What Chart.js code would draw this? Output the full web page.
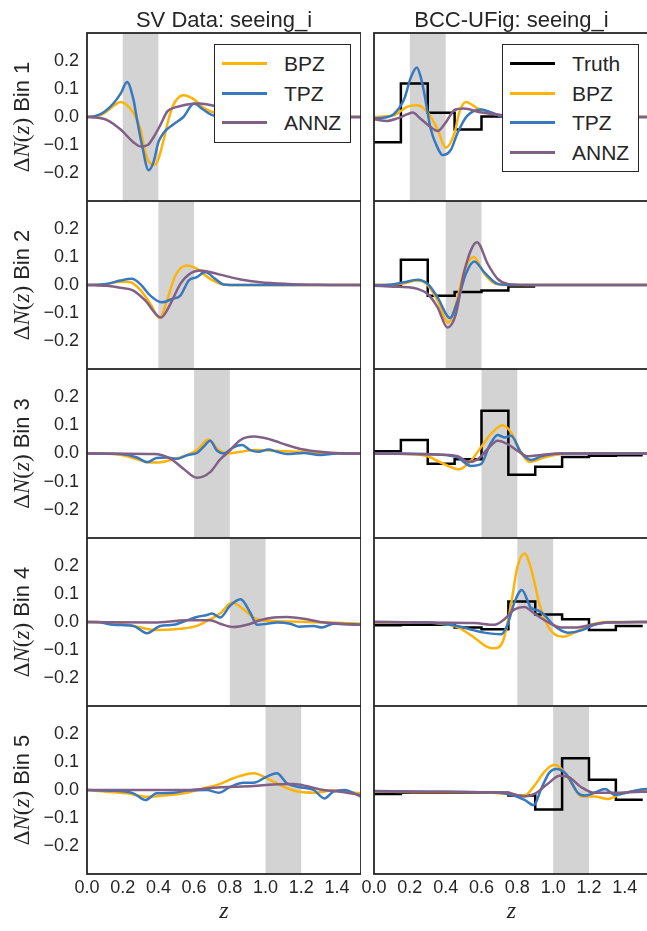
<!DOCTYPE html>
<html>
<head>
<meta charset="utf-8">
<script src="https://cdn.jsdelivr.net/npm/chart.js@4.4.1/dist/chart.umd.min.js"></script>
<style>
html, body { margin: 0; padding: 0; background: #fff; overflow: hidden; width: 647px; height: 931px; }
canvas { position: absolute; }
.legend { position: absolute; background: #fff; border: 1px solid #262626; box-sizing: border-box;
          font-family: "Liberation Sans", Arial, sans-serif; font-size: 21px; color: #262626; }
.legend .item { position: absolute; left: 0; height: 29px; line-height: 29px; width: 100%; }
.legend .sw { position: absolute; top: 13px; width: 45px; height: 3px; }
.legend .lab { position: absolute; left: 69px; top: 0; white-space: nowrap; }
</style>
</head>
<body>
<script>
// ejes y textos
const zMax = 1.535;
const xTicks = [0, 0.2, 0.4, 0.6, 0.8, 1.0, 1.2, 1.4];
const yTicks = [-0.2, -0.1, 0, 0.1, 0.2];
const binBands = [[0.2, 0.4], [0.4, 0.6], [0.6, 0.8], [0.8, 1.0], [1.0, 1.2]];
const columnTitles = ['SV Data: seeing_i', 'BCC-UFig: seeing_i'];
const colors = { Truth: '#000000', BPZ: '#feb308', TPZ: '#3778bf', ANNZ: '#825f87' };

// SV data: puntos [z, dN] por bin
const svBPZ = [
  [[0,0],[0.08,0.008],[0.14,0.035],[0.187,0.054],[0.22,0.045],[0.26,0.015],[0.3,-0.044],[0.327,-0.128],[0.355,-0.166],[0.383,-0.17],[0.4,-0.15],[0.43,-0.08],[0.457,-0.008],[0.485,0.045],[0.54,0.078],[0.6,0.063],[0.653,0.033],[0.71,0.016],[0.8,0.004],[0.9,0],[1.535,0]],
  [[0,0],[0.11,0.004],[0.187,0.012],[0.243,0.01],[0.3,-0.018],[0.355,-0.068],[0.407,-0.118],[0.448,-0.056],[0.495,0.034],[0.56,0.07],[0.616,0.058],[0.69,0.022],[0.765,0.002],[0.85,0],[1.535,0]],
  [[0,0],[0.15,-0.002],[0.224,-0.01],[0.336,-0.03],[0.4,-0.032],[0.485,-0.02],[0.56,-0.006],[0.616,0.012],[0.68,0.05],[0.737,0.012],[0.784,0],[0.86,0.006],[0.933,0.012],[1.045,0.01],[1.19,0.006],[1.344,0],[1.535,0]],
  [[0,0],[0.11,-0.002],[0.224,-0.01],[0.3,-0.02],[0.39,-0.029],[0.523,-0.024],[0.616,-0.014],[0.69,0.01],[0.746,0.03],[0.812,0.07],[0.877,0.045],[0.952,0.01],[1.045,0.004],[1.19,0.001],[1.344,-0.002],[1.535,-0.006]],
  [[0,0],[0.11,-0.006],[0.224,-0.012],[0.336,-0.024],[0.448,-0.019],[0.56,-0.01],[0.653,0.006],[0.746,0.022],[0.82,0.042],[0.933,0.06],[1.008,0.042],[1.08,0.018],[1.157,-0.002],[1.27,-0.01],[1.38,-0.002],[1.535,-0.012]]
];
const svTPZ = [
  [[0,0],[0.05,0.004],[0.1,0.02],[0.15,0.05],[0.19,0.085],[0.224,0.125],[0.26,0.063],[0.28,-0.008],[0.308,-0.1],[0.345,-0.19],[0.373,-0.16],[0.4,-0.09],[0.43,-0.056],[0.485,-0.026],[0.54,0],[0.6,0.048],[0.65,0.027],[0.71,0.005],[0.8,0],[1.535,0]],
  [[0,0],[0.11,0.004],[0.187,0.016],[0.252,0.022],[0.3,0.002],[0.355,-0.038],[0.42,-0.062],[0.476,-0.05],[0.523,-0.038],[0.57,0.016],[0.616,0.028],[0.662,0.046],[0.718,0.022],[0.765,0.002],[0.85,0],[1.535,0]],
  [[0,0],[0.187,-0.002],[0.28,-0.014],[0.336,-0.031],[0.39,-0.016],[0.448,-0.014],[0.504,-0.019],[0.56,-0.006],[0.616,0.002],[0.653,0.024],[0.69,0.045],[0.728,0.01],[0.765,0],[0.82,0.022],[0.868,0.03],[0.915,0.012],[0.96,0.006],[1.017,0.014],[1.064,0.006],[1.12,-0.002],[1.213,0.002],[1.306,-0.005],[1.4,0],[1.535,0]],
  [[0,0],[0.056,0],[0.15,-0.01],[0.26,-0.014],[0.336,-0.04],[0.41,-0.014],[0.485,-0.01],[0.56,0.006],[0.616,0.018],[0.672,0.025],[0.7,0.03],[0.746,0.016],[0.8,0.057],[0.86,0.081],[0.915,0.033],[0.952,-0.01],[1.008,-0.006],[1.064,-0.002],[1.138,-0.006],[1.19,-0.017],[1.27,-0.014],[1.316,-0.02],[1.38,-0.006],[1.535,-0.01]],
  [[0,0],[0.11,-0.002],[0.26,-0.012],[0.327,-0.036],[0.39,-0.012],[0.485,-0.01],[0.56,-0.002],[0.672,0],[0.737,-0.01],[0.8,0.01],[0.877,0.026],[0.933,0.026],[1.008,0.048],[1.064,0.06],[1.12,0.024],[1.194,0.01],[1.27,0],[1.33,-0.03],[1.38,-0.006],[1.446,0],[1.49,-0.01],[1.535,-0.024]]
];
const svANNZ = [
  [[0,0],[0.06,-0.003],[0.11,-0.01],[0.187,-0.044],[0.26,-0.09],[0.3,-0.105],[0.34,-0.1],[0.37,-0.075],[0.41,-0.03],[0.45,0.02],[0.5,0.035],[0.56,0.045],[0.63,0.048],[0.71,0.04],[0.8,0.025],[0.9,0.01],[1.0,0.003],[1.1,0],[1.535,0]],
  [[0,0],[0.11,-0.003],[0.187,-0.01],[0.26,-0.02],[0.327,-0.056],[0.414,-0.116],[0.467,-0.068],[0.523,0.004],[0.58,0.042],[0.635,0.052],[0.746,0.037],[0.86,0.02],[0.97,0.01],[1.12,0.004],[1.3,0.001],[1.535,0]],
  [[0,0],[0.373,-0.002],[0.467,-0.018],[0.54,-0.054],[0.616,-0.086],[0.69,-0.066],[0.746,-0.021],[0.793,0.006],[0.86,0.048],[0.933,0.06],[1.026,0.05],[1.12,0.03],[1.213,0.014],[1.306,0.006],[1.45,0],[1.535,0]],
  [[0,0],[0.373,-0.002],[0.56,0.006],[0.69,0.006],[0.746,-0.006],[0.82,-0.018],[0.896,-0.01],[0.97,0.006],[1.045,0.016],[1.12,0.018],[1.213,0.012],[1.306,0],[1.456,-0.008],[1.535,-0.01]],
  [[0,0],[0.56,0],[0.746,0.01],[0.933,0.014],[1.045,0.02],[1.157,0.021],[1.23,0.014],[1.306,0.002],[1.418,-0.006],[1.535,-0.018]]
];

// BCC-UFig: puntos [z, dN] por bin
const simBPZ = [
  [[0,0],[0.11,0.006],[0.187,0.037],[0.243,0.042],[0.3,0.016],[0.355,-0.044],[0.4,-0.11],[0.45,-0.056],[0.476,0.016],[0.513,0.054],[0.58,0.03],[0.65,0.016],[0.72,0.003],[0.8,0],[1.535,0]],
  [[0,0],[0.1,0.001],[0.168,0.006],[0.243,0.016],[0.3,0],[0.355,-0.056],[0.414,-0.134],[0.457,-0.068],[0.504,0.05],[0.556,0.1],[0.616,0.04],[0.672,0.006],[0.75,0],[1.535,0]],
  [[0,0],[0.2,-0.002],[0.3,-0.01],[0.373,-0.032],[0.476,-0.056],[0.54,-0.026],[0.597,0.022],[0.653,0.07],[0.718,0.1],[0.765,0.075],[0.82,0.004],[0.868,-0.03],[0.933,-0.018],[1.0,-0.006],[1.1,0],[1.535,0]],
  [[0,-0.002],[0.3,-0.002],[0.373,-0.006],[0.467,-0.018],[0.56,-0.056],[0.635,-0.09],[0.672,-0.094],[0.72,-0.068],[0.765,0.063],[0.8,0.195],[0.84,0.245],[0.877,0.19],[0.924,0.063],[0.97,-0.014],[1.008,-0.044],[1.054,-0.053],[1.12,-0.038],[1.194,-0.014],[1.3,0],[1.535,0]],
  [[0,-0.005],[0.3,-0.008],[0.6,-0.008],[0.746,-0.014],[0.84,-0.02],[0.896,0.016],[0.952,0.066],[1.008,0.09],[1.054,0.07],[1.1,0.027],[1.157,-0.023],[1.23,-0.023],[1.306,-0.032],[1.38,-0.014],[1.49,0],[1.535,0.003]]
];
const simTPZ = [
  [[0,-0.005],[0.06,-0.002],[0.11,0.01],[0.168,0.063],[0.205,0.14],[0.239,0.177],[0.262,0.14],[0.28,0.087],[0.317,-0.044],[0.355,-0.11],[0.383,-0.136],[0.43,-0.116],[0.467,-0.056],[0.52,0.004],[0.6,0.027],[0.653,0.016],[0.72,0.002],[0.8,0],[1.535,0]],
  [[0,0],[0.1,0.002],[0.168,0.01],[0.243,0.019],[0.3,0.004],[0.355,-0.044],[0.425,-0.118],[0.467,-0.056],[0.513,0.04],[0.56,0.084],[0.616,0.045],[0.69,0.004],[0.76,0],[1.535,0]],
  [[0,0],[0.373,-0.004],[0.467,-0.014],[0.54,-0.044],[0.597,-0.038],[0.644,0.027],[0.69,0.066],[0.728,0.057],[0.765,0.063],[0.82,0.004],[0.877,-0.023],[0.933,-0.01],[1.045,0],[1.535,0]],
  [[0,0],[0.3,-0.002],[0.467,-0.014],[0.56,-0.03],[0.616,-0.038],[0.71,-0.044],[0.746,-0.008],[0.784,0.07],[0.825,0.114],[0.877,0.05],[0.914,0.042],[0.952,0.025],[1.0,-0.01],[1.08,-0.038],[1.157,-0.03],[1.23,-0.01],[1.3,-0.002],[1.535,0]],
  [[0,-0.004],[0.3,-0.006],[0.6,-0.008],[0.746,-0.014],[0.84,-0.035],[0.892,-0.054],[0.933,0.004],[0.98,0.063],[1.017,0.075],[1.073,0.057],[1.138,-0.01],[1.176,-0.02],[1.23,-0.01],[1.29,0.004],[1.344,-0.018],[1.418,-0.008],[1.49,0.002],[1.535,0.004]]
];
const simANNZ = [
  [[0,-0.008],[0.075,-0.014],[0.13,-0.005],[0.187,0.01],[0.215,0.016],[0.26,-0.006],[0.308,-0.032],[0.355,-0.05],[0.4,-0.02],[0.45,0.025],[0.5,0.03],[0.6,0.016],[0.72,0.006],[0.85,0.002],[1.0,0],[1.535,0]],
  [[0,-0.003],[0.11,-0.006],[0.187,-0.008],[0.243,-0.014],[0.3,-0.032],[0.355,-0.08],[0.41,-0.152],[0.457,-0.104],[0.504,0.05],[0.575,0.153],[0.635,0.075],[0.69,0.022],[0.746,0.004],[0.85,0],[1.535,0]],
  [[0,0],[0.373,-0.004],[0.467,-0.01],[0.53,-0.03],[0.58,-0.02],[0.635,0.016],[0.69,0.045],[0.746,0.033],[0.8,0.01],[0.86,-0.01],[0.933,-0.005],[1.045,0],[1.535,0]],
  [[0,0],[0.56,-0.004],[0.672,-0.01],[0.728,0.01],[0.784,0.045],[0.84,0.054],[0.896,0.03],[0.97,0],[1.045,-0.02],[1.12,-0.02],[1.213,-0.01],[1.3,-0.002],[1.535,0]],
  [[0,-0.004],[0.3,-0.006],[0.6,-0.008],[0.746,-0.01],[0.84,-0.023],[0.896,-0.014],[0.97,0.022],[1.036,0.051],[1.09,0.045],[1.157,0.01],[1.23,-0.01],[1.344,-0.01],[1.49,-0.006],[1.535,-0.006]]
];

// histograma "Truth" (solo BCC-UFig)
const truthEdges = [0, 0.15, 0.3, 0.45, 0.6, 0.75, 0.9, 1.05, 1.2, 1.35, 1.5];
const truthBins = [
  [-0.09, 0.12, 0.015, -0.045, 0.002],
  [-0.002, 0.09, -0.038, -0.025, -0.02, -0.005],
  [0.008, 0.048, -0.036, -0.02, 0.152, -0.075, -0.047, -0.012, -0.008, -0.006],
  [-0.012, -0.01, -0.01, -0.02, -0.026, 0.073, 0.027, 0.01, -0.029, -0.014],
  [-0.014, -0.01, -0.01, -0.01, -0.01, -0.02, -0.07, 0.113, 0.037, -0.035]
];

// geometría de paneles
const rowTop = [33, 201, 369, 538, 706];
const plotBottom = 874;
const colLeft = [0, 361];
const colWidth = [361, 288];
const axisWidth = [87, 13];
const textColor = '#262626';

function curve(label, pts) {
  return {
    label: label,
    data: pts.map(p => ({ x: p[0], y: p[1] })),
    borderColor: colors[label],
    borderWidth: 2.5,
    pointRadius: 0,
    fill: false,
    cubicInterpolationMode: 'monotone'
  };
}

function truthCurve(vals) {
  const data = vals.map((v, i) => ({ x: truthEdges[i], y: v }));
  data.push({ x: truthEdges[vals.length], y: vals[vals.length - 1] });
  return { label: 'Truth', data: data, borderColor: colors.Truth, borderWidth: 2.5, pointRadius: 0, fill: false, stepped: true };
}

const bandPlugin = {
  id: 'band',
  beforeDatasetsDraw(chart) {
    const band = chart.options.plugins.band;
    const { ctx, chartArea, scales } = chart;
    const x0 = scales.x.getPixelForValue(band.from);
    const x1 = scales.x.getPixelForValue(band.to);
    ctx.save();
    ctx.fillStyle = '#d3d3d3';
    ctx.fillRect(x0, chartArea.top, x1 - x0, chartArea.bottom - chartArea.top);
    ctx.restore();
  }
};

const framePlugin = {
  id: 'frame',
  afterDraw(chart) {
    const { ctx, chartArea } = chart;
    const opts = chart.options.plugins.frame;
    ctx.save();
    ctx.strokeStyle = textColor;
    ctx.lineWidth = 1.8;
    ctx.strokeRect(chartArea.left, chartArea.top, chartArea.right - chartArea.left, chartArea.bottom - chartArea.top);
    // título de columna
    if (opts.title) {
      ctx.fillStyle = textColor;
      ctx.font = '22px "Liberation Sans", Arial, sans-serif';
      ctx.textAlign = 'center';
      ctx.textBaseline = 'alphabetic';
      ctx.fillText(opts.title, (chartArea.left + chartArea.right) / 2, 26.5);
    }
    // etiqueta del eje y: ΔN(z) Bin k
    if (opts.ylabel) {
      const serif = '23px "Liberation Serif", "DejaVu Serif", serif';
      const serifIt = 'italic 23px "Liberation Serif", "DejaVu Serif", serif';
      const sans = '22px "Liberation Sans", Arial, sans-serif';
      const parts = [['\u0394', serif], ['N', serifIt], ['(', serif], ['z', serifIt], [')', serif], [' Bin ' + opts.ylabel, sans]];
      let total = 0;
      parts.forEach(p => { ctx.font = p[1]; total += ctx.measureText(p[0]).width; });
      ctx.translate(23, (chartArea.top + chartArea.bottom) / 2);
      ctx.rotate(-Math.PI / 2);
      ctx.fillStyle = textColor;
      ctx.textAlign = 'left';
      ctx.textBaseline = 'middle';
      let x = -total / 2;
      parts.forEach(p => { ctx.font = p[1]; ctx.fillText(p[0], x, 0); x += ctx.measureText(p[0]).width; });
    }
    ctx.restore();
  }
};

function makePanel(col, row) {
  const isTop = row === 0;
  const isBottom = row === rowTop.length - 1;
  const top = isTop ? 0 : rowTop[row];
  const areaBottom = isBottom ? plotBottom : rowTop[row + 1];
  const xAxisH = isBottom ? 57 : 0;
  const height = areaBottom - top + xAxisH;

  const canvas = document.createElement('canvas');
  canvas.width = colWidth[col];
  canvas.height = height;
  canvas.style.left = colLeft[col] + 'px';
  canvas.style.top = top + 'px';
  canvas.style.width = colWidth[col] + 'px';
  canvas.style.height = height + 'px';
  document.body.appendChild(canvas);

  const datasets = col === 0
    ? [curve('ANNZ', svANNZ[row]), curve('TPZ', svTPZ[row]), curve('BPZ', svBPZ[row])]
    : [curve('ANNZ', simANNZ[row]), curve('TPZ', simTPZ[row]), curve('BPZ', simBPZ[row]), truthCurve(truthBins[row])];

  new Chart(canvas.getContext('2d'), {
    type: 'line',
    data: { datasets: datasets },
    plugins: [bandPlugin, framePlugin],
    options: {
      responsive: false,
      animation: false,
      layout: { padding: { top: isTop ? 33 : 0, right: 0, bottom: 0, left: 0 } },
      plugins: {
        legend: { display: false },
        tooltip: { enabled: false },
        band: { from: binBands[row][0], to: binBands[row][1] },
        frame: { title: isTop ? columnTitles[col] : null, ylabel: col === 0 ? String(row + 1) : null }
      },
      scales: {
        x: {
          type: 'linear',
          min: 0,
          max: zMax,
          display: isBottom,
          afterBuildTicks: s => { s.ticks = xTicks.map(v => ({ value: v })); },
          afterFit: s => {
            if (isBottom) s.height = xAxisH;
            s.paddingLeft = 0; s.paddingRight = 0;
          },
          grid: { display: false, drawTicks: false },
          border: { display: false },
          ticks: {
            padding: 3,
            maxRotation: 0,
            color: textColor,
            font: { family: '"Liberation Sans", Arial, sans-serif', size: 18 },
            callback: v => v.toFixed(1)
          },
          title: {
            display: true,
            text: 'z',
            color: textColor,
            font: { family: '"Liberation Serif", "DejaVu Serif", serif', style: 'italic', size: 24 },
            padding: { top: 0, bottom: 5 }
          }
        },
        y: {
          type: 'linear',
          min: -0.3,
          max: 0.3,
          afterBuildTicks: s => { s.ticks = yTicks.map(v => ({ value: v })); },
          afterFit: s => {
            s.width = axisWidth[col];
            s.paddingTop = 0; s.paddingBottom = 0;
          },
          grid: { display: false, drawTicks: false },
          border: { display: false },
          ticks: {
            display: col === 0,
            padding: 8,
            color: textColor,
            font: { family: '"Liberation Sans", Arial, sans-serif', size: 18 },
            callback: v => v.toFixed(1).replace('-', '\u2212')
          }
        }
      }
    }
  });
}

function makeLegend(left, top, width, labels) {
  const box = document.createElement('div');
  box.className = 'legend';
  box.style.left = left + 'px';
  box.style.top = top + 'px';
  box.style.width = width + 'px';
  box.style.height = (labels.length * 29.5 + 10) + 'px';
  labels.forEach((lab, i) => {
    const item = document.createElement('div');
    item.className = 'item';
    item.style.top = (4 + i * 29.5) + 'px';
    item.innerHTML = '<span class="sw" style="left:7px;background:' + colors[lab] + '"></span><span class="lab">' + lab + '</span>';
    box.appendChild(item);
  });
  document.body.appendChild(box);
}

document.addEventListener('DOMContentLoaded', function() {
  for (let col = 0; col < 2; col++) {
    for (let row = 0; row < rowTop.length; row++) {
      makePanel(col, row);
    }
  }
  makeLegend(214, 44, 137, ['BPZ', 'TPZ', 'ANNZ']);
  makeLegend(502, 44, 137, ['Truth', 'BPZ', 'TPZ', 'ANNZ']);
});
</script>
</body>
</html>
